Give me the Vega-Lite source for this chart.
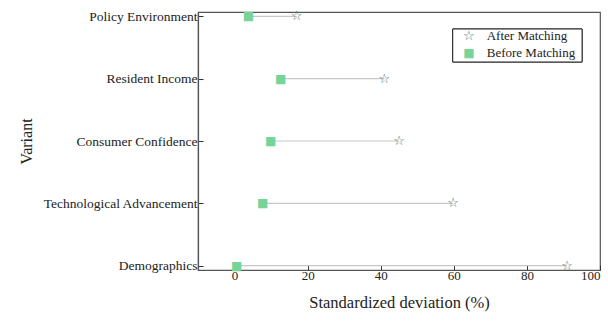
{
  "$schema": "https://vega.github.io/schema/vega-lite/v6.json",
  "autosize": "none",
  "width": 402,
  "height": 258,
  "padding": {"left": 198, "top": 12, "right": 8, "bottom": 52},
  "background": "white",
  "config": {
    "font": "Liberation Serif",
    "view": {"stroke": "#555555", "strokeWidth": 1.2},
    "axis": {"grid": false, "domainColor": "#555555", "domainWidth": 1.2, "tickColor": "#333333", "labelColor": "#222222", "titleColor": "#222222", "titleFontWeight": "normal", "labelFont": "Liberation Serif", "titleFont": "Liberation Serif"}
  },
  "datasets": {
    "pairs": [
      {"variant": "Policy Environment", "before": 3.8, "after": 17.0},
      {"variant": "Resident Income", "before": 12.6, "after": 41.0},
      {"variant": "Consumer Confidence", "before": 9.9, "after": 45.0},
      {"variant": "Technological Advancement", "before": 7.7, "after": 59.8},
      {"variant": "Demographics", "before": 0.6, "after": 91.0}
    ],
    "legend": [
      {"group": "After Matching", "order": 1},
      {"group": "Before Matching", "order": 2}
    ]
  },
  "layer": [
    {
      "data": {"name": "pairs"},
      "encoding": {
        "y": {
          "field": "variant", "type": "nominal", "sort": null,
          "scale": {"type": "point", "padding": 0.07, "domain": ["Policy Environment", "Resident Income", "Consumer Confidence", "Technological Advancement", "Demographics"]},
          "axis": {"title": "Variant", "tickSize": -5, "labelPadding": 6, "titlePadding": 8, "labelFontSize": 13.5, "titleFontSize": 16}
        }
      },
      "layer": [
        {
          "mark": {"type": "rule", "color": "#c8c8c8", "strokeWidth": 1.2},
          "encoding": {
            "x": {
              "field": "before", "type": "quantitative",
              "scale": {"domain": [-10, 100], "nice": false, "zero": false},
              "axis": {"title": "Standardized deviation (%)", "values": [0, 20, 40, 60, 80, 100], "tickSize": -5, "labelPadding": 4, "titlePadding": 12, "labelFontSize": 13, "titleFontSize": 16.5}
            },
            "x2": {"field": "after"}
          }
        },
        {
          "mark": {"type": "text", "text": "■", "font": "DejaVu Sans", "fontSize": 12, "color": "#74d49a", "align": "center", "baseline": "middle"},
          "encoding": {"x": {"field": "before", "type": "quantitative"}}
        },
        {
          "mark": {"type": "text", "text": "☆", "font": "DejaVu Sans", "fontSize": 13, "color": "#4d7272", "align": "center", "baseline": "middle"},
          "encoding": {"x": {"field": "after", "type": "quantitative"}}
        }
      ]
    },
    {
      "data": {"name": "legend"},
      "layer": [
        {
          "mark": {"type": "rect", "fill": "white", "stroke": "#222222", "strokeWidth": 1},
          "encoding": {
            "x": {"datum": 59.7, "type": "quantitative"},
            "x2": {"datum": 95.1},
            "y": {"datum": 0.59, "type": "quantitative", "scale": {"domain": [0.59, 2.53], "range": [17, 50], "nice": false, "zero": false}, "axis": null},
            "y2": {"datum": 2.53}
          }
        },
        {
          "transform": [{"filter": "datum.order == 1"}],
          "mark": {"type": "text", "text": "☆", "font": "DejaVu Sans", "fontSize": 13, "color": "#4d7272", "align": "center", "baseline": "middle"},
          "encoding": {
            "x": {"datum": 64.1, "type": "quantitative"},
            "y": {"field": "order", "type": "quantitative"}
          }
        },
        {
          "transform": [{"filter": "datum.order == 2"}],
          "mark": {"type": "text", "text": "■", "font": "DejaVu Sans", "fontSize": 12, "color": "#74d49a", "align": "center", "baseline": "middle"},
          "encoding": {
            "x": {"datum": 64.1, "type": "quantitative"},
            "y": {"field": "order", "type": "quantitative"}
          }
        },
        {
          "mark": {"type": "text", "font": "Liberation Serif", "fontSize": 13, "color": "#222222", "align": "left", "baseline": "middle"},
          "encoding": {
            "x": {"datum": 69.0, "type": "quantitative"},
            "y": {"field": "order", "type": "quantitative"},
            "text": {"field": "group", "type": "nominal"}
          }
        }
      ]
    }
  ],
  "resolve": {"scale": {"y": "independent"}, "axis": {"y": "independent"}}
}
